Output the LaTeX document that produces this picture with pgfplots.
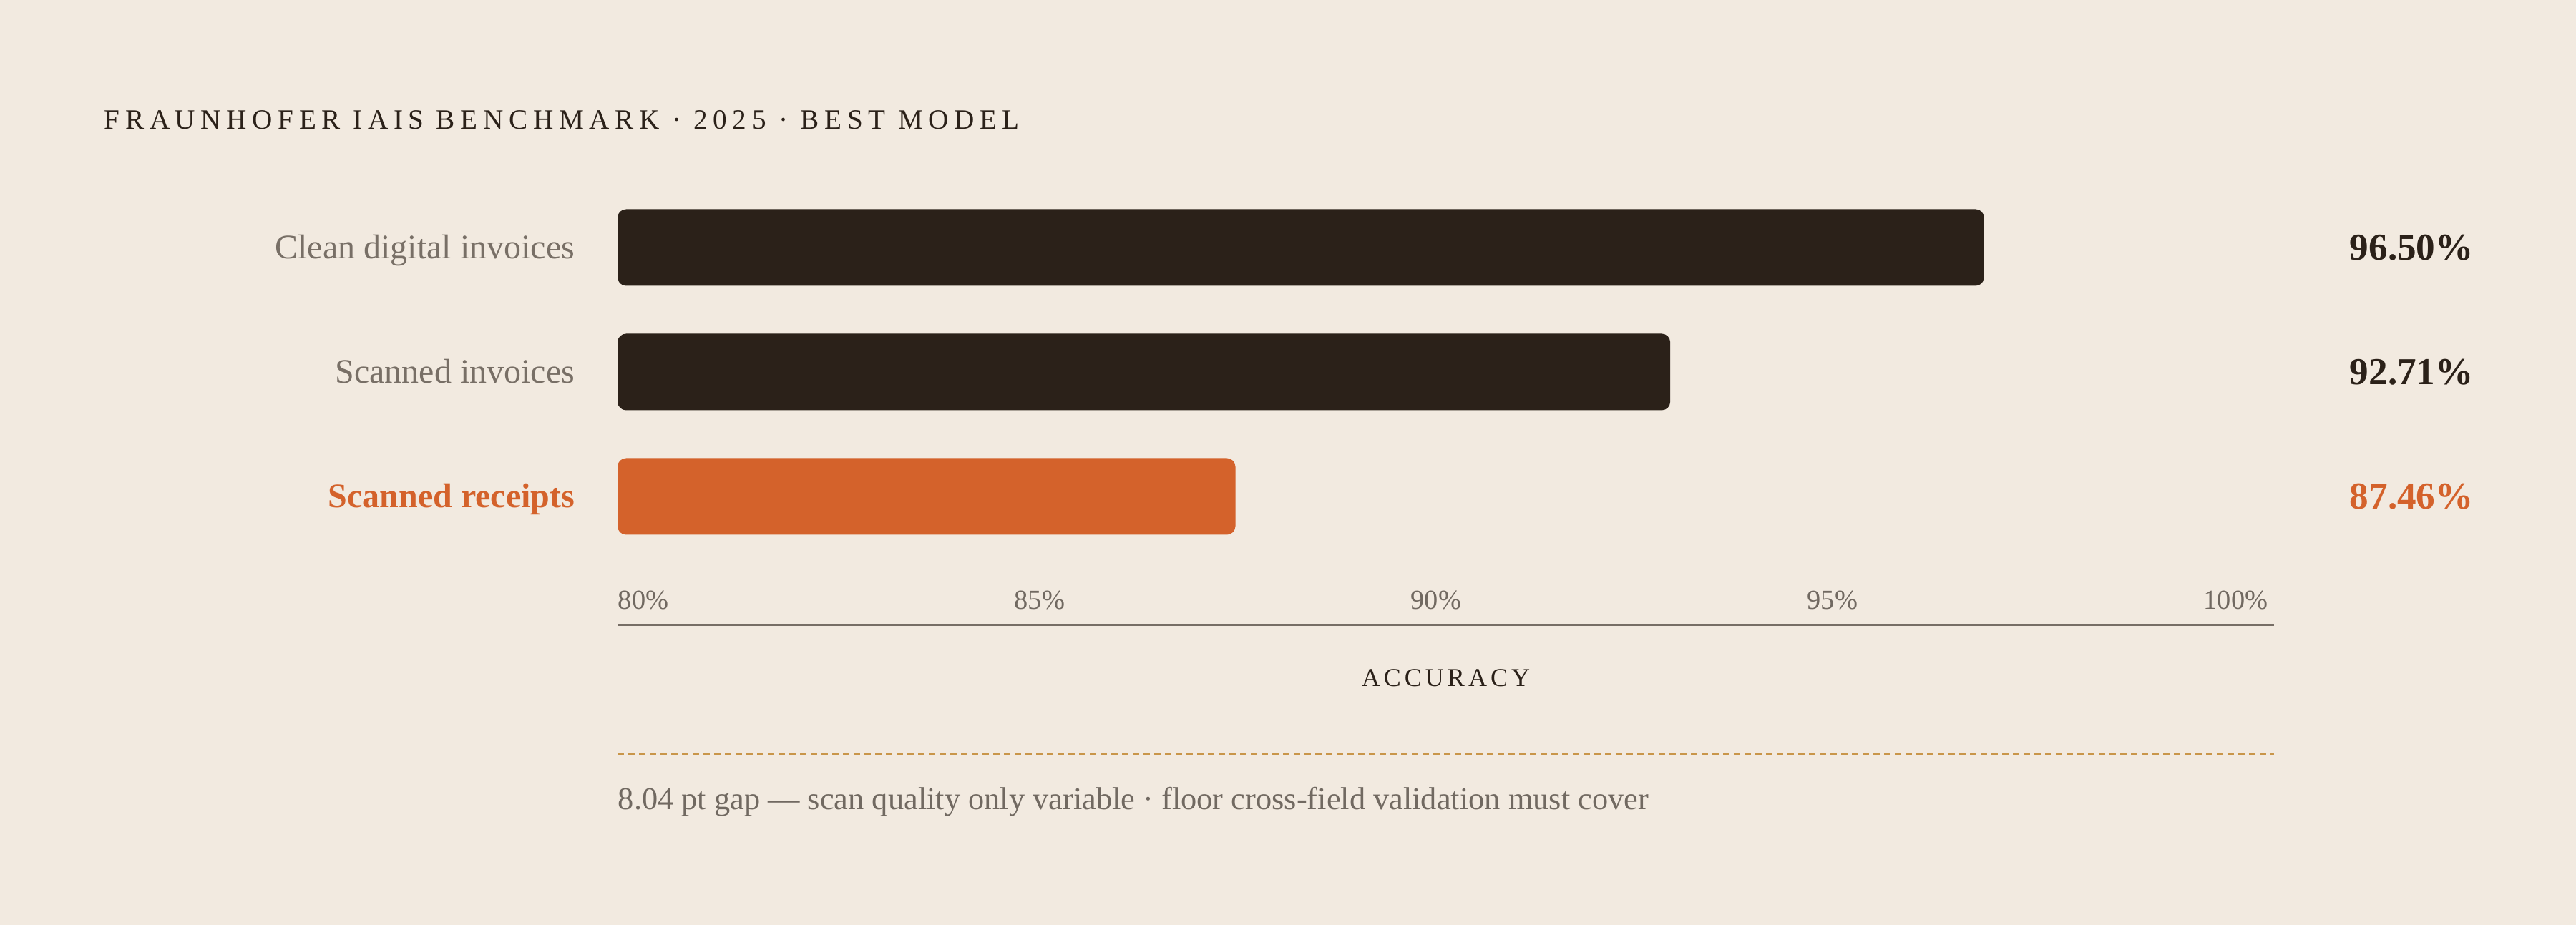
\documentclass[border=0pt]{standalone}
\usepackage{fontspec}
\setmainfont{Liberation Serif}
\newfontfamily\titlefont[LetterSpace=19.5]{Liberation Serif}
\newfontfamily\labelfont[LetterSpace=14]{Liberation Serif}
\usepackage{pgfplots}
\usepackage{pgfplotstable}
\pgfplotsset{compat=1.18}

\definecolor{paper}{HTML}{F2EAE0}
\definecolor{ink}{HTML}{2B2119}
\definecolor{accent}{HTML}{D4622B}
\definecolor{catgray}{HTML}{786F66}
\definecolor{tickgray}{HTML}{716961}
\definecolor{rulegray}{HTML}{776E66}
\definecolor{dashgold}{HTML}{C9964A}

% accuracy (%) per document type; y = row position
\pgfplotstableread{
y acc
2 96.50
1 92.71
}\printed
\pgfplotstableread{
y acc
0 87.46
}\receipts

\begin{document}
\begin{tikzpicture}
\fill[paper] (0,0) rectangle (900pt,323.25pt);

\node[anchor=base west, inner sep=0pt, text=ink,
      font=\titlefont\fontsize{9.8pt}{12pt}\selectfont]
  at (36.25pt,278pt) {FRAUNHOFER IAIS BENCHMARK · 2025 · BEST MODEL};

\begin{axis}[
    at={(215.75pt,104.75pt)}, anchor=south west,
    x=28.9375pt, y=43.5pt,
    x coord trafo/.code={\pgfmathparse{#1-80}},
    x coord inv trafo/.code={\pgfmathparse{#1+80}},
    xmin=80, xmax=100, ymin=-1.0345, ymax=2.5,
    clip=false,
    /pgf/number format/assume math mode=true,
    axis x line=bottom, axis y line=left,
    x axis line style={-, draw=rulegray, line width=0.75pt},
    y axis line style={draw=none},
    major tick length=0pt, tick style={draw=none},
    xtick={80,85,90,95,100},
    xticklabels={80\%,85\%,90\%,95\%,100\%},
    xticklabel style={anchor=base west, inner sep=0pt, yshift=5.5pt,
        xshift=-6.19pt*\ticknum, text=tickgray,
        font=\fontsize{9.6pt}{11pt}\selectfont},
    ytick={0,1,2},
    yticklabels={{\bfseries\color{accent}Scanned receipts},Scanned invoices,Clean digital invoices},
    yticklabel style={anchor=base east, inner sep=0pt, xshift=-14.75pt, yshift=-4pt,
        text=catgray, font=\fontsize{12pt}{14pt}\selectfont},
    xlabel={ACCURACY},
    xlabel style={at={(axis description cs:0.5,0)}, anchor=base, inner sep=0pt,
        yshift=-21.5pt, text=ink, font=\labelfont\fontsize{9pt}{11pt}\selectfont},
]
\addplot[xbar, bar width=0.615, bar shift=0pt, fill=ink, draw=none, rounded corners=3pt]
  table[x=acc, y=y]{\printed};
\addplot[xbar, bar width=0.615, bar shift=0pt, fill=accent, draw=none, rounded corners=3pt]
  table[x=acc, y=y]{\receipts};

\addplot[draw=none, mark=none, point meta=explicit,
    nodes near coords={\pgfmathprintnumber[fixed,fixed zerofill,precision=2]{\pgfplotspointmeta}\%},
    nodes near coords style={anchor=base west, inner sep=0pt, yshift=-4.5pt, text=ink,
        font=\bfseries\fontsize{13.3pt}{15pt}\selectfont}]
  table[x expr=100.907, y=y, meta=acc]{\printed};
\addplot[draw=none, mark=none, point meta=explicit,
    nodes near coords={\pgfmathprintnumber[fixed,fixed zerofill,precision=2]{\pgfplotspointmeta}\%},
    nodes near coords style={anchor=base west, inner sep=0pt, yshift=-4.5pt, text=accent,
        font=\bfseries\fontsize{13.3pt}{15pt}\selectfont}]
  table[x expr=100.907, y=y, meta=acc]{\receipts};
\end{axis}

\draw[dashgold, line width=0.8pt, dash pattern=on 2.25pt off 1.5pt]
  (215.75pt,59.8pt) -- (794.5pt,59.8pt);

\node[anchor=base west, inner sep=0pt, text=tickgray,
      font=\fontsize{11.1pt}{13pt}\selectfont]
  at (215.75pt,40.25pt) {8.04 pt gap — scan quality only variable · floor cross-field validation must cover};
\end{tikzpicture}
\end{document}
